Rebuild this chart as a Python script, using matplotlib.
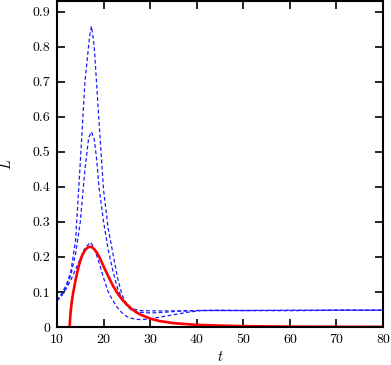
import matplotlib
matplotlib.use("Agg")
import matplotlib.pyplot as plt

plt.rcParams['font.family'] = 'serif'
plt.rcParams['font.serif'] = ['cmr10', 'DejaVu Serif']
plt.rcParams['mathtext.fontset'] = 'cm'
plt.rcParams['axes.unicode_minus'] = False
plt.rcParams['axes.formatter.use_mathtext'] = True

# red solid curve
t_red = [12.7, 12.9, 13.2, 13.5, 14, 14.5, 15, 15.5, 16, 16.5, 17, 17.5, 18, 18.5,
         19, 19.5, 20, 21, 22, 23, 24, 25, 26, 27, 28, 30, 32, 35, 40, 45, 50, 60, 70, 80]
L_red = [0.0, 0.04, 0.075, 0.10, 0.135, 0.165, 0.19, 0.207, 0.219, 0.226, 0.229, 0.228,
         0.222, 0.213, 0.202, 0.188, 0.173, 0.145, 0.118, 0.096, 0.078, 0.064, 0.052,
         0.042, 0.035, 0.024, 0.017, 0.011, 0.006, 0.004, 0.0025, 0.001, 0.0005, 0.0003]

# blue dashed curves
t_a = [10, 11, 12, 13, 14, 15, 16, 17, 17.4, 18, 19, 20, 21, 22, 23, 24, 25, 26, 28,
       30, 35, 40, 45, 50, 55, 60, 65, 70, 75, 80]
L_a = [0.075, 0.095, 0.12, 0.16, 0.25, 0.47, 0.70, 0.83, 0.858, 0.80, 0.59, 0.39, 0.28,
       0.21, 0.14, 0.09, 0.065, 0.052, 0.047, 0.046, 0.046, 0.047, 0.048, 0.047, 0.047,
       0.047, 0.047, 0.048, 0.048, 0.048]

t_b = [10, 11, 12, 13, 14, 15, 16, 16.8, 17.4, 18, 18.5, 19, 20, 21, 22, 23, 24, 25, 26,
       28, 30, 33, 36, 40, 45, 50, 60, 70, 80]
L_b = [0.075, 0.09, 0.115, 0.15, 0.21, 0.30, 0.45, 0.54, 0.557, 0.535, 0.48, 0.40, 0.30,
       0.22, 0.16, 0.11, 0.08, 0.06, 0.048, 0.042, 0.040, 0.042, 0.045, 0.047, 0.047,
       0.047, 0.047, 0.048, 0.048]

t_c = [10, 11, 12, 13, 14, 15, 16, 17.2, 18, 19, 20, 21, 22, 23, 24, 25, 26, 27, 28, 30,
       32, 35, 38, 41, 45, 50, 60, 70, 80]
L_c = [0.075, 0.09, 0.11, 0.135, 0.165, 0.195, 0.225, 0.242, 0.225, 0.185, 0.14, 0.10,
       0.075, 0.055, 0.04, 0.03, 0.025, 0.022, 0.021, 0.023, 0.028, 0.035, 0.042, 0.047,
       0.047, 0.047, 0.048, 0.048, 0.048]

xticks = [10, 20, 30, 40, 50, 60, 70, 80]
yticks = [0, 0.1, 0.2, 0.3, 0.4, 0.5, 0.6, 0.7, 0.8, 0.9]
yticklabels = ['0', '0.1', '0.2', '0.3', '0.4', '0.5', '0.6', '0.7', '0.8', '0.9']

fig = plt.figure(figsize=(3.91, 3.65), dpi=100)
ax = fig.add_axes([0.1458, 0.1041, 0.8337, 0.8930])

dash = dict(color='#1a1aff', lw=0.9, dashes=(3, 2))
ax.plot(t_a, L_a, **dash)
ax.plot(t_b, L_b, **dash)
ax.plot(t_c, L_c, **dash)
ax.plot(t_red, L_red, color='#ff0000', lw=1.9)

ax.set_xlim(10, 80)
ax.set_ylim(0, 0.93)
ax.set_xticks(xticks)
ax.set_xticklabels([str(x) for x in xticks])
ax.set_yticks(yticks)
ax.set_yticklabels(yticklabels)
ax.tick_params(direction='in', length=6, width=1.2, top=True, right=True,
               labelsize=10, pad=5)
for sp in ax.spines.values():
    sp.set_linewidth(1.5)

ax.set_xlabel('$t$', fontsize=10.5, labelpad=3)
ax.set_ylabel('$L$', fontsize=10.5, labelpad=13)

plt.savefig('out.png', dpi=100)
